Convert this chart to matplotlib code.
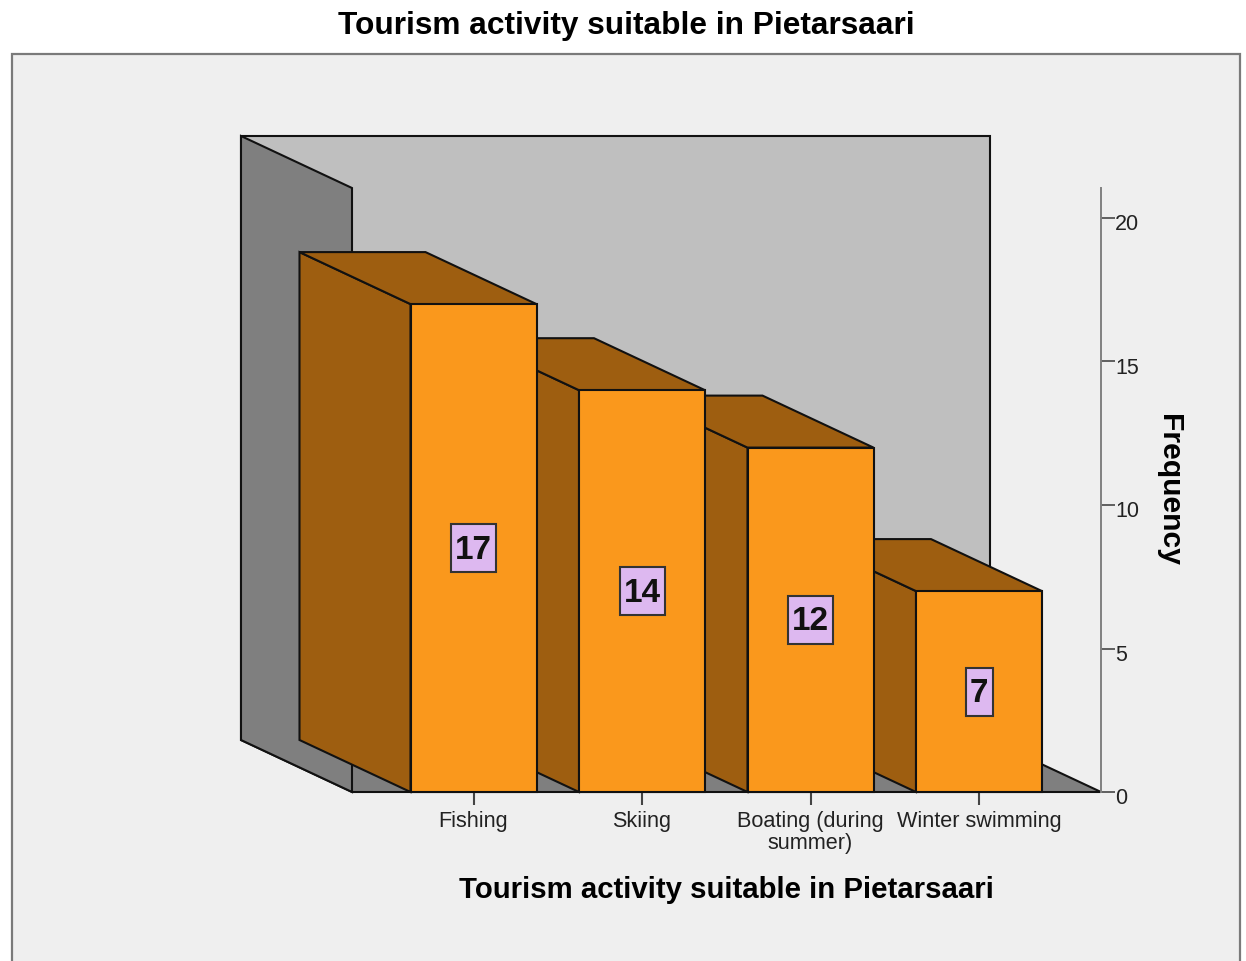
import matplotlib
matplotlib.use("Agg")
import matplotlib.pyplot as plt
from matplotlib.patches import Polygon, Rectangle
from matplotlib.transforms import ScaledTranslation

CATEGORIES = ["Fishing", "Skiing", "Boating (during\nsummer)", "Winter swimming"]
FREQUENCY = [17, 14, 12, 7]
Y_TICKS = [0, 5, 10, 15, 20]
TITLE = "Tourism activity suitable in Pietarsaari"

W, H = 1246, 961
FRONT = "#FA981C"
SHADE = "#9E5E10"
WALL = "#BFBFBF"
DARK_WALL = "#7F7F7F"
PANEL = "#EFEFEF"
BOX = "#DDB8F0"

# pixels per x category and per frequency unit
PX_CAT = 168.5
PX_FREQ = 28.7

# oblique depth, in data units
DEPTH_X = -111 / PX_CAT
DEPTH_Y = 52 / PX_FREQ
BAR_W = 126 / PX_CAT

plt.rcParams["font.family"] = ["Liberation Sans", "DejaVu Sans"]

fig = plt.figure(figsize=(W / 100, H / 100), dpi=100)
fig.patch.set_facecolor("white")

fig.add_artist(Rectangle((12 / W, -0.05), 1228 / W, 1 - 54 / H + 0.05,
                         transform=fig.transFigure, facecolor=PANEL,
                         edgecolor="#7A7A7A", linewidth=1.6, zorder=-1))
fig.text(626 / W, 1 - 26 / H, TITLE, ha="center", va="center",
         fontsize=22.8, fontweight="bold", color="black")

ax = fig.add_axes([352 / W, 1 - 792 / H, 749 / W, 604 / H])
ax.patch.set_visible(False)
ax.set_xlim((352 - 473.5) / PX_CAT, (1101 - 473.5) / PX_CAT)
ax.set_ylim(0, 604 / PX_FREQ)
x0, x1 = ax.get_xlim()
y0, y1 = ax.get_ylim()


def shape(pts, fc, z):
    ax.add_patch(Polygon(pts, closed=True, facecolor=fc, edgecolor="#111111",
                         linewidth=1.5, joinstyle="miter", clip_on=False, zorder=z))


# walls and floor
bx, by = DEPTH_X, DEPTH_Y
shape([(x0 + bx, y0 + by), (x1 + bx, y0 + by), (x1 + bx, y1 + by), (x0 + bx, y1 + by)], WALL, 1)
shape([(x0 + bx, y0 + by), (x1 + bx, y0 + by), (x1, y0), (x0, y0)], DARK_WALL, 1.1)
shape([(x0 + bx, y0 + by), (x0, y0), (x0, y1), (x0 + bx, y1 + by)], DARK_WALL, 1.2)

# bars, right to left so the nearer ones cover the side of the next
for i in reversed(range(len(FREQUENCY))):
    v = FREQUENCY[i]
    l, r = i - BAR_W / 2, i + BAR_W / 2
    z = 2 + (len(FREQUENCY) - i) * 0.1
    shape([(l + bx, by), (l, 0), (l, v), (l + bx, v + by)], SHADE, z)
    shape([(l + bx, v + by), (r + bx, v + by), (r, v), (l, v)], SHADE, z)
    shape([(l, 0), (r, 0), (r, v), (l, v)], FRONT, z)

    label = str(v)
    box_w = (45 if len(label) > 1 else 27) / PX_CAT
    box_h = 48 / PX_FREQ
    ax.add_patch(Rectangle((i - box_w / 2, v / 2 - box_h / 2), box_w, box_h,
                           facecolor=BOX, edgecolor="#333333", linewidth=1.5, zorder=4))
    ax.annotate(label, (i, v / 2), xytext=(0, -1.5), textcoords="offset points",
                ha="center", va="center", fontsize=24, fontweight="bold",
                color="#111111", zorder=5)

for side in ["top", "left", "bottom"]:
    ax.spines[side].set_visible(False)
ax.spines["right"].set_color("#808080")
ax.spines["right"].set_linewidth(1.4)
ax.spines["right"].set_zorder(6)

ax.set_xticks(range(len(CATEGORIES)))
ax.set_xticklabels(CATEGORIES, fontsize=15.6, color="#222222", linespacing=1.05)
ax.set_yticks(Y_TICKS)
ax.yaxis.tick_right()
ax.tick_params(axis="x", length=9.5, width=1.5, color="#444444", pad=4)
ax.tick_params(axis="y", length=10, width=1.3, color="#555555", pad=0,
               labelsize=15.5, labelcolor="#222222")

# the frequency labels sit a little below their ticks
shift = ScaledTranslation(0, -3 / 72, fig.dpi_scale_trans)
for tick_label in ax.get_yticklabels():
    tick_label.set_transform(tick_label.get_transform() + shift)

ax.set_xlabel(TITLE, fontsize=21.15, fontweight="bold", color="black", labelpad=16.5)
ax.yaxis.set_label_position("right")
ax.set_ylabel("Frequency", fontsize=21.7, fontweight="bold", color="black",
              rotation=270, labelpad=32)

fig.savefig("out.png", dpi=100)
